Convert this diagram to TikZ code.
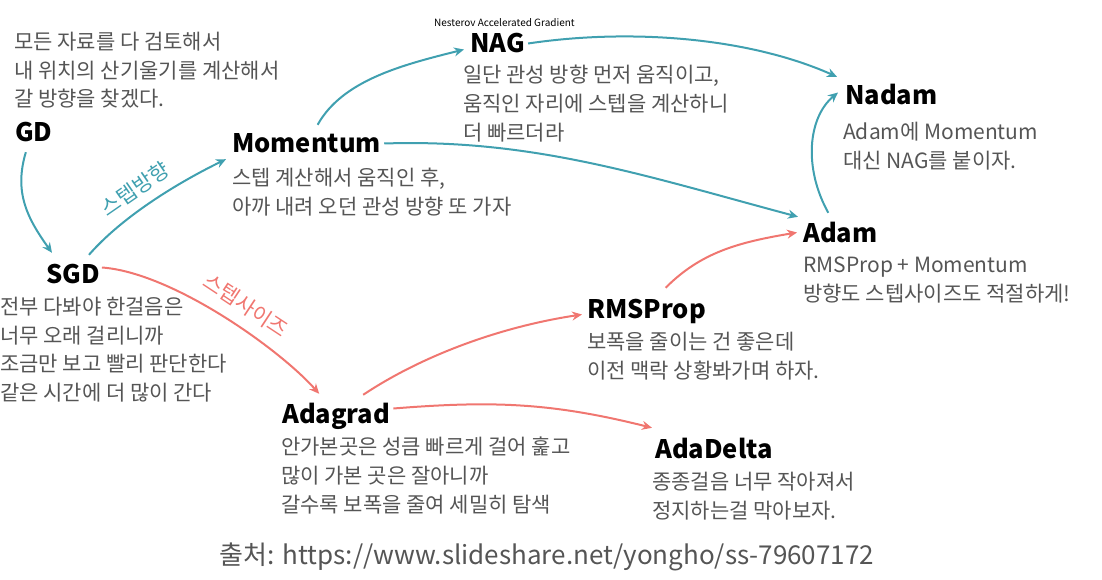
\documentclass[tikz,border=0pt]{standalone}
\usepackage{fontspec}
\setmainfont{Noto Sans CJK KR}
\usetikzlibrary{arrows.meta,positioning}
\definecolor{optteal}{RGB}{64,160,176}
\definecolor{optred}{RGB}{240,118,112}
\definecolor{desctext}{RGB}{85,85,85}

\begin{document}
\begin{tikzpicture}[x=1pt, y=-1pt,
    algo/.style={anchor=base west, inner sep=0pt, text height=19pt, text depth=0pt, font=\bfseries\fontsize{25.5}{25.5}\selectfont},
    desc/.style={anchor=north west, inner sep=0pt, align=left, text=desctext, font=\fontsize{21}{28.7}\selectfont},
    tarr/.style={-{Stealth[length=10pt,width=9pt]}, line width=2pt, optteal},
    rarr/.style={-{Stealth[length=10pt,width=9pt]}, line width=2pt, optred},
    steplbl/.style={sloped, font=\fontsize{21}{21}\selectfont}
]
\useasboundingbox (0,0) rectangle (1102,580);

\node[desc] (gd-desc) at (14,32) {모든 자료를 다 검토해서\\내 위치의 산기울기를 계산해서\\갈 방향을 찾겠다.};
\node[algo] (gd) at (15,142) {GD};
\node[algo] (sgd) at (46,283) {SGD};
\node[desc] (sgd-desc) at (0,297) {전부 다봐야 한걸음은\\너무 오래 걸리니까\\조금만 보고 빨리 판단한다\\같은 시간에 더 많이 간다};
\node[algo] (momentum) at (232,153) {Momentum};
\node[desc] (momentum-desc) at (232,168) {스텝 계산해서 움직인 후,\\아까 내려 오던 관성 방향 또 가자};
\node[anchor=base west, inner sep=0pt, font=\fontsize{10}{10}\selectfont] (nag-full) at (434,27) {Nesterov Accelerated Gradient};
\node[algo] (nag) at (470,53) {NAG};
\node[desc] (nag-desc) at (463,65) {일단 관성 방향 먼저 움직이고,\\움직인 자리에 스텝을 계산하니\\더 빠르더라};
\node[algo] (nadam) at (845,105) {Nadam};
\node[desc] (nadam-desc) at (843,122) {Adam에 Momentum\\대신 NAG를 붙이자.};
\node[algo] (adam) at (803,242) {Adam};
\node[desc] (adam-desc) at (803,257) {RMSProp + Momentum\\방향도 스텝사이즈도 적절하게!};
\node[algo] (rmsprop) at (587,318) {RMSProp};
\node[desc] (rmsprop-desc) at (587,332) {보폭을 줄이는 건 좋은데\\이전 맥락 상황봐가며 하자.};
\node[algo] (adagrad) at (282,423) {Adagrad};
\node[desc] (adagrad-desc) at (281,437) {안가본곳은 성큼 빠르게 걸어 훑고\\많이 가본 곳은 잘아니까\\갈수록 보폭을 줄여 세밀히 탐색};
\node[algo] (adadelta) at (655,458) {AdaDelta};
\node[desc] (adadelta-desc) at (652,472) {종종걸음 너무 작아져서\\정지하는걸 막아보자.};
\node[anchor=north, inner sep=0pt, text=desctext, font=\fontsize{26}{26}\selectfont] (source) at (547,543) {출처: https://www.slideshare.net/yongho/ss-79607172};

\draw[tarr] ([shift={(-8pt,-10pt)}]gd.south) .. controls +(-12,40) and +(-25,-35) .. ([shift={(6pt,11pt)}]sgd.north west);
\draw[tarr] ([shift={(-11pt,9pt)}]sgd.north east) .. controls +(35,-40) and +(-45,22) .. node[steplbl, pos=0.45, above=6pt, text=optteal] {스텝방향} ([shift={(-6pt,-6pt)}]momentum.south west);
\draw[tarr] ([shift={(11pt,9pt)}]momentum.north) .. controls +(25,-45) and +(-60,15) .. ([shift={(-6pt,-6pt)}]nag.west);
\draw[tarr] ([xshift=3pt]momentum.east) .. controls +(150,-5) and +(-150,-40) .. ([shift={(-5pt,6pt)}]adam.north west);
\draw[tarr] ([xshift=3pt]nag.east) .. controls +(100,-15) and +(-90,-40) .. ([shift={(-8pt,9pt)}]nadam.north west);
\draw[tarr] ([shift={(-12pt,10pt)}]adam.north) .. controls +(-25,-45) and +(-30,25) .. ([shift={(-7pt,3pt)}]nadam.west);
\draw[rarr] ([shift={(2pt,6pt)}]sgd.east) .. controls +(70,5) and +(-40,-45) .. node[steplbl, pos=0.55, above=8pt, text=optred] {스텝사이즈} ([shift={(-17pt,10pt)}]adagrad.north);
\draw[rarr] ([shift={(27pt,9pt)}]adagrad.north) .. controls +(60,-40) and +(-80,12) .. ([shift={(-5pt,-6pt)}]rmsprop.west);
\draw[rarr] ([shift={(3pt,5pt)}]adagrad.east) .. controls +(100,-8) and +(-100,-25) .. ([shift={(-3pt,11pt)}]adadelta.north west);
\draw[rarr] ([shift={(19pt,11pt)}]rmsprop.north) .. controls +(35,-35) and +(-60,10) .. ([xshift=-6pt]adam.west);
\end{tikzpicture}
\end{document}
